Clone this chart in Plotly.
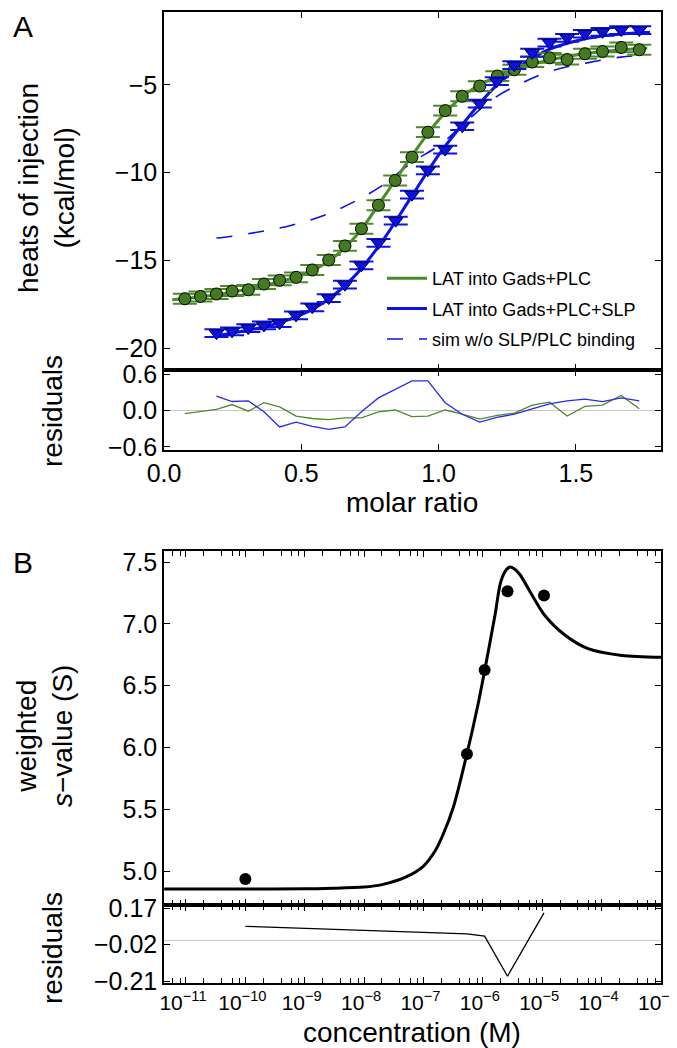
import plotly.graph_objects as go

# ---------------- Panel A data ----------------
green_x = [0.076, 0.133, 0.191, 0.248, 0.307, 0.364, 0.421, 0.481, 0.540, 0.600, 0.659, 0.719, 0.781,
           0.842, 0.903, 0.961, 1.024, 1.086, 1.150, 1.214, 1.276, 1.341, 1.404, 1.468, 1.533, 1.597, 1.665, 1.731]
green_y = [-17.19, -17.06, -16.92, -16.75, -16.68, -16.35, -16.14, -15.97, -15.55, -14.98, -14.18, -13.20, -11.86,
           -10.45, -9.12, -7.70, -6.47, -5.65, -5.07, -4.50, -4.14, -3.70, -3.46, -3.56, -3.23, -3.10, -2.87, -3.00]
green_res = [-0.05, -0.02, 0.02, 0.10, -0.01, 0.13, 0.06, -0.09, -0.13, -0.15, -0.12, -0.12, -0.02,
             0.01, -0.10, -0.09, 0.01, -0.06, -0.14, -0.08, -0.04, 0.09, 0.14, -0.09, 0.07, 0.09, 0.25, 0.03]

blue_x = [0.191, 0.248, 0.307, 0.364, 0.421, 0.481, 0.540, 0.600, 0.659, 0.719, 0.781, 0.844,
          0.903, 0.961, 1.024, 1.086, 1.150, 1.212, 1.276, 1.341, 1.404, 1.468, 1.533, 1.597, 1.665, 1.731]
blue_y = [-19.15, -19.05, -18.86, -18.71, -18.58, -18.14, -17.68, -17.15, -16.39, -15.29, -14.01, -12.74,
          -11.26, -9.87, -8.69, -7.36, -6.07, -4.79, -3.88, -3.17, -2.60, -2.32, -2.09, -1.98, -1.88, -1.88]
blue_res = [0.24, 0.15, 0.16, -0.02, -0.27, -0.19, -0.26, -0.31, -0.27, -0.02, 0.21, 0.36,
            0.49, 0.49, 0.13, -0.06, -0.19, -0.11, -0.06, 0.03, 0.11, 0.16, 0.19, 0.15, 0.21, 0.16]

green_fit_x = [0.03, 0.2, 0.4, 0.5, 0.6, 0.7, 0.8, 0.9, 1.0, 1.1, 1.2, 1.3, 1.4, 1.5, 1.6, 1.76]
green_fit_y = [-17.25, -16.95, -16.3, -15.85, -15.05, -13.6, -11.4, -9.1, -7.0, -5.5, -4.6, -4.0, -3.6, -3.3, -3.1, -2.9]

blue_fit_x = [0.19, 0.3, 0.4, 0.5, 0.6, 0.7, 0.8, 0.9, 1.0, 1.1, 1.2, 1.3, 1.4, 1.5, 1.6, 1.77]
blue_fit_y = [-19.3, -19.0, -18.65, -18.1, -17.2, -15.8, -13.8, -11.4, -9.0, -7.0, -5.2, -3.9, -3.0, -2.5, -2.2, -2.0]

sim_x = [0.191, 0.221, 0.349, 0.465, 0.584, 0.70, 0.80, 0.90, 1.006, 1.116, 1.195, 1.304, 1.416, 1.541, 1.663, 1.76]
sim_y = [-13.73, -13.69, -13.37, -13.0, -12.43, -11.6, -10.68, -9.45, -8.40, -6.88, -5.84, -4.89, -4.18, -3.75, -3.42, -3.3]

green_err = 0.28
blue_err = 0.22

legend_names = ["LAT into Gads+PLC", "LAT into Gads+PLC+SLP", "sim w/o SLP/PLC binding"]

# ---------------- Panel B data ----------------
conc_pts = [1e-10, 5.4e-7, 1.07e-6, 2.6e-6, 1.07e-5]
s_pts = [4.935, 5.947, 6.626, 7.265, 7.23]
s_res = [0.075, 0.036, 0.024, -0.185, 0.145]

conc_fit = [4.3e-12, 1e-10, 1e-9, 3e-9, 1e-8, 2e-8, 5e-8, 1e-7, 1.6e-7, 2.2e-7, 3.2e-7, 5.4e-7, 8.3e-7,
            1.07e-6, 1.6e-6, 2.0e-6, 2.5e-6, 2.9e-6, 3.5e-6, 4.2e-6, 6.6e-6, 1.1e-5, 2.4e-5, 5.9e-5, 2.2e-4, 1e-3]
s_fit = [4.855, 4.855, 4.856, 4.86, 4.87, 4.89, 4.95, 5.04, 5.17, 5.31, 5.52, 5.95, 6.35,
         6.62, 7.07, 7.34, 7.44, 7.46, 7.44, 7.40, 7.24, 7.07, 6.91, 6.80, 6.745, 6.73]

# ---------------- styling ----------------
W, H = 677, 1048
FONT = "Liberation Sans, Arial, Helvetica, sans-serif"
GREEN_LINE = "#4d8a2c"
GREEN_FILL = "#447a22"
BLUE_LINE = "#0a12e8"
BLUE_RES = "#2a2aee"
TICK_FS = 25
TITLE_FS = 28

def px_x(p):
    return p / W

def px_y(p):
    return 1 - p / H

xdom = [px_x(156), px_x(653)]

fig = go.Figure()

# sim dashed
fig.add_trace(go.Scatter(x=sim_x, y=sim_y, mode="lines", name=legend_names[2], legendrank=3, legendgroup="g3",
                         line=dict(color=BLUE_LINE, width=1.6, dash="16px,16px", shape="spline"),
                         xaxis="x", yaxis="y"))
# fits
fig.add_trace(go.Scatter(x=green_fit_x, y=green_fit_y, mode="lines", name=legend_names[0], legendrank=1,
                         legendgroup="g1",
                         line=dict(color=GREEN_LINE, width=3, shape="spline"), xaxis="x", yaxis="y"))
fig.add_trace(go.Scatter(x=blue_fit_x, y=blue_fit_y, mode="lines", name=legend_names[1], legendrank=2,
                         legendgroup="g2",
                         line=dict(color=BLUE_LINE, width=3, shape="spline"), xaxis="x", yaxis="y"))
# data with error bars
fig.add_trace(go.Scatter(x=green_x, y=green_y, mode="markers", showlegend=False,
                         marker=dict(symbol="circle", size=12, color=GREEN_FILL, line=dict(color="black", width=1)),
                         error_y=dict(type="constant", value=green_err, width=12, thickness=2, color=GREEN_LINE),
                         xaxis="x", yaxis="y"))
fig.add_trace(go.Scatter(x=blue_x, y=blue_y, mode="markers", showlegend=False,
                         marker=dict(symbol="triangle-down", size=13, color="#1010e0", line=dict(color="#000050", width=1)),
                         error_y=dict(type="constant", value=blue_err, width=12, thickness=2, color=BLUE_LINE),
                         xaxis="x", yaxis="y"))
# residuals A
fig.add_trace(go.Scatter(x=green_x, y=green_res, mode="lines", showlegend=False,
                         line=dict(color=GREEN_LINE, width=1.3), xaxis="x2", yaxis="y2"))
fig.add_trace(go.Scatter(x=blue_x, y=blue_res, mode="lines", showlegend=False,
                         line=dict(color=BLUE_RES, width=1.3), xaxis="x2", yaxis="y2"))

# Panel B
fig.add_trace(go.Scatter(x=conc_fit, y=s_fit, mode="lines", showlegend=False,
                         line=dict(color="black", width=3, shape="spline", smoothing=0.8), xaxis="x3", yaxis="y3"))
fig.add_trace(go.Scatter(x=conc_pts, y=s_pts, mode="markers", showlegend=False,
                         marker=dict(color="black", size=12), xaxis="x3", yaxis="y3"))
fig.add_trace(go.Scatter(x=conc_pts, y=s_res, mode="lines", showlegend=False,
                         line=dict(color="black", width=1.3), xaxis="x4", yaxis="y4"))

axis_common = dict(showline=True, linecolor="black", linewidth=1.5, mirror="ticks", ticks="inside",
                   ticklen=6, tickwidth=1.3, tickcolor="black", showgrid=False, zeroline=False,
                   automargin=False, tickangle=0,
                   tickfont=dict(family=FONT, size=TICK_FS, color="black"))

minor_vals = []
for d in range(-12, -3):
    for m in (2, 4, 6, 8):
        minor_vals.append(m * 10.0 ** d)

log_major = [1e-11, 1e-10, 1e-9, 1e-8, 1e-7, 1e-6, 1e-5, 1e-4, 1e-3]
log_text = ["10<sup>\u2212%d</sup>" % k for k in range(11, 2, -1)]

fig.update_layout(
    width=W, height=H, autosize=False,
    margin=dict(l=0, r=0, t=0, b=0, autoexpand=False),
    paper_bgcolor="white", plot_bgcolor="white",
    font=dict(family=FONT, color="black"),
    showlegend=True,
    legend=dict(x=px_x(374), y=px_y(252), xanchor="left", yanchor="top",
                bgcolor="rgba(0,0,0,0)", borderwidth=0, itemwidth=40,
                font=dict(family=FONT, size=18, color="black"), tracegroupgap=4),
    xaxis=dict(domain=xdom, range=[0, 1.81], anchor="y", tickvals=[0, 0.5, 1.0, 1.5],
               showticklabels=False, **axis_common),
    yaxis=dict(domain=[px_y(362), px_y(4)], range=[-21.25, -0.85], anchor="x",
               tickvals=[-20, -15, -10, -5], ticktext=["\u221220", "\u221215", "\u221210", "\u22125"],
               **axis_common),
    xaxis2=dict(domain=xdom, range=[0, 1.81], anchor="y2", tickvals=[0, 0.5, 1.0, 1.5],
                ticktext=["0.0", "0.5", "1.0", "1.5"], **axis_common),
    yaxis2=dict(domain=[px_y(442), px_y(362)], range=[-0.65, 0.67], anchor="x2",
                tickvals=[-0.6, 0, 0.6], ticktext=["\u22120.6", "0.0", "0.6"],
                **{**axis_common, "zeroline": True}, zerolinecolor="#c8c8c8", zerolinewidth=1),
    xaxis3=dict(domain=xdom, type="log", range=[-11.37, -3], anchor="y3", tickvals=log_major,
                showticklabels=False,
                minor=dict(tickvals=minor_vals, ticks="inside", ticklen=5, tickwidth=1.3, tickcolor="black"),
                **axis_common),
    yaxis3=dict(domain=[px_y(897), px_y(543)], range=[4.725, 7.59], anchor="x3",
                tickvals=[5.0, 5.5, 6.0, 6.5, 7.0, 7.5], ticktext=["5.0", "5.5", "6.0", "6.5", "7.0", "7.5"],
                **axis_common),
    xaxis4=dict(domain=xdom, type="log", range=[-11.37, -3], anchor="y4", tickvals=log_major,
                ticktext=log_text, ticklabelshift=-3,
                minor=dict(tickvals=minor_vals, ticks="inside", ticklen=5, tickwidth=1.3, tickcolor="black"),
                **{**axis_common, "tickfont": dict(family=FONT, size=21, color="black")}),
    yaxis4=dict(domain=[px_y(975), px_y(897)], range=[-0.22, 0.186], anchor="x4",
                tickvals=[-0.21, -0.02, 0.17], ticktext=["\u22120.21", "\u22120.02", "0.17"],
                **{**axis_common, "zeroline": True}, zerolinecolor="#c8c8c8", zerolinewidth=1),
)

def ann(text, x, y, size, angle=0):
    fig.add_annotation(text=text, x=px_x(x), y=px_y(y), xref="paper", yref="paper",
                       xanchor="center", yanchor="middle", showarrow=False, textangle=angle,
                       font=dict(family=FONT, size=size, color="black"))

ann("A", 15, 18, 30)
ann("B", 15, 554, 30)
ann("heats of injection<br>(kcal/mol)", 38, 180, TITLE_FS, -90)
ann("residuals", 44, 403, TITLE_FS, -90)
ann("molar ratio", 404, 495, TITLE_FS)
ann("weighted<br><i>s</i>\u2212value (S)", 36, 728, TITLE_FS, -90)
ann("residuals", 44, 940, TITLE_FS, -90)
ann("concentration (M)", 404, 1024, TITLE_FS)

fig.write_html("out.html")
